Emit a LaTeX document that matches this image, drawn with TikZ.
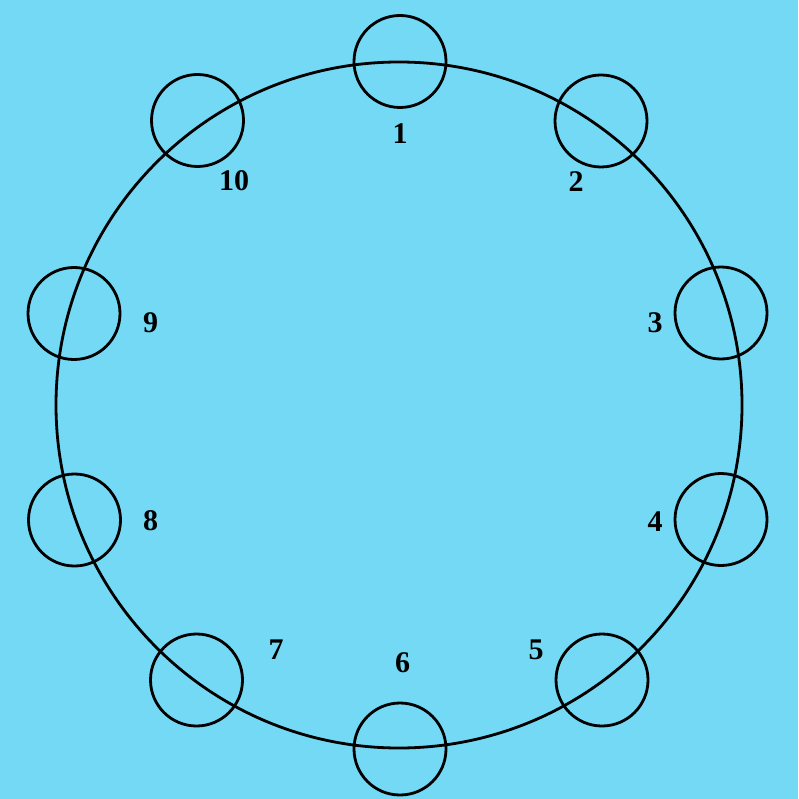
\documentclass[tikz,border=0pt]{standalone}
\usepackage{fontspec}
\setmainfont{Liberation Serif}
\definecolor{bgblue}{RGB}{115,217,244}
\begin{document}
\begin{tikzpicture}[x=1pt,y=-1pt,
  ring/.style={draw=black,line width=2.8pt},
  seat/.style={circle,draw=black,line width=2.8pt,minimum size=92pt,inner sep=0pt},
  lbl/.style={font=\fontsize{30}{30}\selectfont\bfseries,inner sep=0pt}]
\fill[bgblue] (0,0) rectangle (798,799);
\useasboundingbox (0,0) rectangle (798,799);
\node[circle,ring,minimum size=686pt,inner sep=0pt] (big) at (399,405) {};
\node[seat] (c1) at (400,61.5) {};
\node[seat] (c2) at (601,121) {};
\node[seat] (c3) at (721,313) {};
\node[seat] (c4) at (721,519.5) {};
\node[seat] (c5) at (602,680) {};
\node[seat] (c6) at (400,749) {};
\node[seat] (c7) at (196.5,680) {};
\node[seat] (c8) at (74.5,520) {};
\node[seat] (c9) at (74,313.5) {};
\node[seat] (c10) at (197.5,120.5) {};
\node[lbl] (l1) at (400,134) {1};
\node[lbl] (l2) at (576,181.5) {2};
\node[lbl] (l3) at (655,322.5) {3};
\node[lbl] (l4) at (655,521.5) {4};
\node[lbl] (l5) at (536,650) {5};
\node[lbl] (l6) at (402.5,663) {6};
\node[lbl] (l7) at (276,650) {7};
\node[lbl] (l8) at (150.5,521) {8};
\node[lbl] (l9) at (150.5,322.5) {9};
\node[lbl] (l10) at (234,181) {10};
\end{tikzpicture}
\end{document}
